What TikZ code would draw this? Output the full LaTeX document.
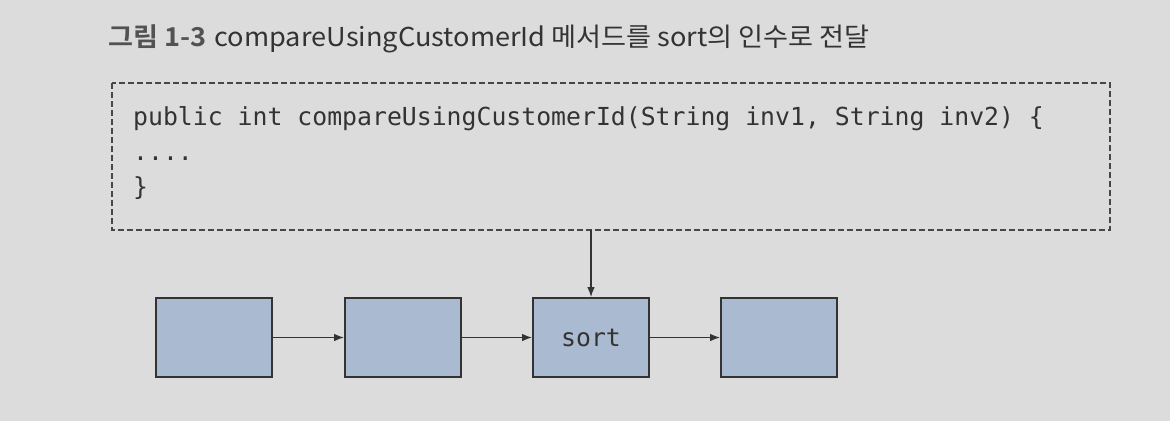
\documentclass[tikz,border=0pt]{standalone}
\usepackage{fontspec}
\usetikzlibrary{arrows.meta}
\newfontfamily\krfont{Noto Sans CJK KR}
\newfontfamily\krbold{Noto Sans CJK KR Bold}
\newfontfamily\codefont{DejaVu Sans Mono}
\definecolor{bg}{HTML}{DCDCDC}
\definecolor{boxfill}{HTML}{AABBD1}
\definecolor{ink}{HTML}{333333}
\tikzset{
  blk/.style={draw=ink, line width=1.6pt, fill=boxfill, minimum width=116pt, minimum height=79pt, inner sep=0pt},
  conn/.style={draw=ink, line width=1.5pt, -{Latex[length=10pt,width=7.5pt]}},
  codebox/.style={draw=ink!90, line width=1.3pt, dash pattern=on 6pt off 3pt},
  codetext/.style={inner sep=0pt, text=ink, font=\fontsize{24.8pt}{35pt}\selectfont\codefont},
}
\begin{document}
\begin{tikzpicture}[x=1pt,y=-1pt]
\fill[bg] (0,0) rectangle (1170,421);
\useasboundingbox (0,0) rectangle (1170,421);
% title
\node[anchor=base west, inner sep=0pt, text=ink] (title) at (108,46)
  {\scalebox{1.045}[1]{\fontsize{26pt}{26pt}\selectfont{\krbold\color{ink!85}그림 1-3} \krfont compareUsingCustomerId 메서드를 sort의 인수로 전달}};
% code box
\draw[codebox] (112,83) rectangle (1110,230);
\coordinate (cb) at (591,230);
\node[codetext, anchor=base west, align=left] (code) at (133,195)
  {public int compareUsingCustomerId(String inv1, String inv2) \{\\
   ....\\
   \}};
% blocks
\node[blk] (b1) at (214,337.5) {};
\node[blk] (b2) at (403,337.5) {};
\node[blk, codetext] (b3) at (591,337.5) {sort};
\node[blk] (b4) at (779,337.5) {};
\draw[conn] (b1) -- (b2);
\draw[conn] (b2) -- (b3);
\draw[conn] (b3) -- (b4);
\draw[conn] (cb) -- (b3.north);
\end{tikzpicture}
\end{document}
